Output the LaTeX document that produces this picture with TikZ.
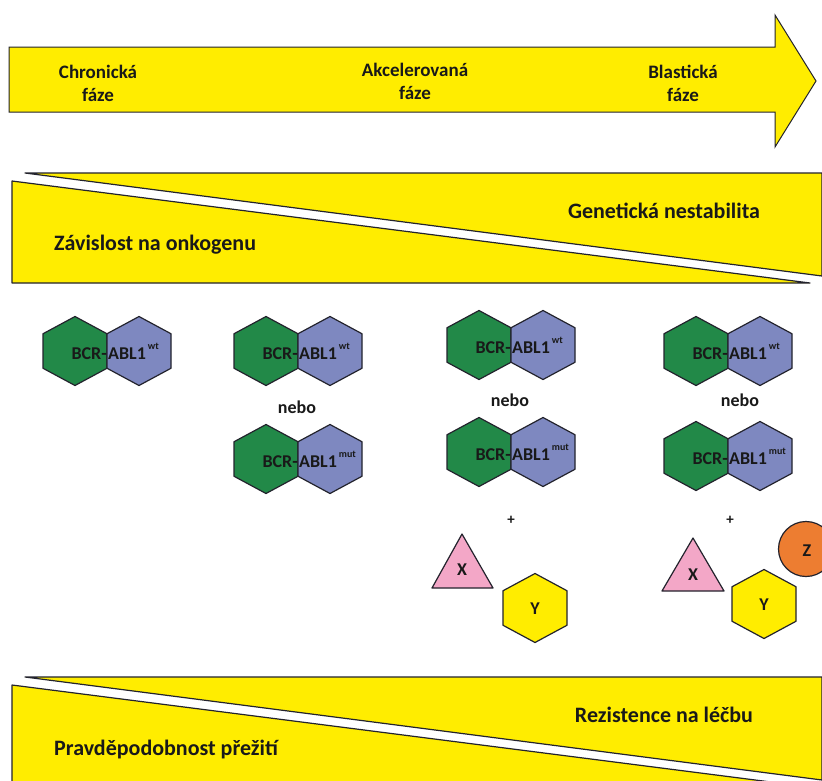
\documentclass[tikz,border=0pt]{standalone}
\usepackage{fontspec}
\setmainfont{Carlito}
\definecolor{bandyellow}{RGB}{255,237,0}
\definecolor{fusgreen}{RGB}{34,137,72}
\definecolor{fusblue}{RGB}{126,136,192}
\definecolor{xpink}{RGB}{243,167,199}
\definecolor{zorange}{RGB}{237,125,49}
\definecolor{edge}{RGB}{35,35,45}
\tikzset{
  shapeline/.style={draw=edge, line width=1.2pt, line join=round},
  lbl/.style={inner sep=0pt, font=\bfseries\fontsize{18}{23}\selectfont, text=black!90},
  phase/.style={lbl, font=\bfseries\fontsize{19}{23}\selectfont},
  bandlbl/.style={lbl, font=\bfseries\fontsize{22}{24}\selectfont},
  letter/.style={lbl, font=\bfseries\fontsize{18}{18}\selectfont},
  small/.style={inner sep=0pt, font=\bfseries\fontsize{15}{15}\selectfont, text=black!90}
}
\newcommand{\hexa}[3]{\draw[shapeline, fill=#1] (#2,#3) +(0,-34.5) -- +(32,-17.25) -- +(32,17.25) -- +(0,34.5) -- +(-32,17.25) -- +(-32,-17.25) -- cycle;}
\newcommand{\fusion}[4]{%
  \hexa{fusgreen}{#2-32}{#3}
  \hexa{fusblue}{#2+32}{#3}
  \node[lbl, anchor=base east] (#1-bcr) at (#2,#3+8) {BCR-};
  \node[lbl, anchor=base west] (#1-abl) at (#2+1,#3+8) {ABL1\hspace{2pt}\raisebox{10pt}{\fontsize{10}{10}\selectfont #4}};
}
\begin{document}
\begin{tikzpicture}[x=1pt, y=-1pt]
  \useasboundingbox (0,0) rectangle (822,780);
  \fill[white] (0,0) rectangle (822,780);
  % faze
  \draw[draw=edge, line width=1pt, fill=bandyellow] (9,47) -- (775,47) -- (775,15) -- (816,81) -- (775,147) -- (775,112) -- (9,112) -- cycle;
  \node[phase, align=center] (chronicka) at (98,83) {Chronická\\fáze};
  \node[phase, align=center] (akcelerovana) at (415,81) {Akcelerovaná\\fáze};
  \node[phase, align=center] (blasticka) at (683,83) {Blastická\\fáze};
  % klin 1
  \draw[shapeline, fill=bandyellow] (25,173) -- (822,173) -- (822,276) -- cycle;
  \draw[shapeline, fill=bandyellow] (12,181) -- (810,283) -- (12,283) -- cycle;
  \node[bandlbl] (nestabilita) at (664,211) {Genetická nestabilita};
  \node[bandlbl, anchor=west] (zavislost) at (54,245) {Závislost na onkogenu};
  % BCR-ABL1
  \fusion{f1}{107}{351}{wt}
  \fusion{f2a}{298}{351}{wt}
  \node[lbl] (nebo2) at (297,407) {nebo};
  \fusion{f2b}{298}{459}{mut}
  \fusion{f3a}{511}{345}{wt}
  \node[lbl] (nebo3) at (510,400) {nebo};
  \fusion{f3b}{511}{452}{mut}
  \fusion{f4a}{728}{351}{wt}
  \node[lbl] (nebo4) at (740,400) {nebo};
  \fusion{f4b}{728}{456}{mut}
  % X, Y, Z
  \node[small] (plus3) at (511,520) {+};
  \draw[shapeline, fill=xpink] (462,534) -- (493,588) -- (432,588) -- cycle;
  \node[letter] (x3) at (462,570) {X};
  \hexa{bandyellow}{535}{608}
  \node[letter] (y3) at (535,609) {Y};
  \node[small] (plus4) at (730,520) {+};
  \draw[shapeline, fill=xpink] (693,538) -- (724,591) -- (662,591) -- cycle;
  \node[letter] (x4) at (693,575) {X};
  \hexa{bandyellow}{764}{604}
  \node[letter] (y4) at (764,605) {Y};
  \draw[shapeline, fill=zorange] (806,549) circle (27.5);
  \node[letter] (z4) at (807,551) {Z};
  % klin 2
  \draw[shapeline, fill=bandyellow] (25,677) -- (822,677) -- (822,780) -- cycle;
  \draw[shapeline, fill=bandyellow] (12,685) -- (810,787) -- (12,787) -- cycle;
  \node[bandlbl] (rezistence) at (664,715) {Rezistence na léčbu};
  \node[bandlbl, anchor=west] (prezit) at (54,749) {Pravděpodobnost přežití};
\end{tikzpicture}
\end{document}
